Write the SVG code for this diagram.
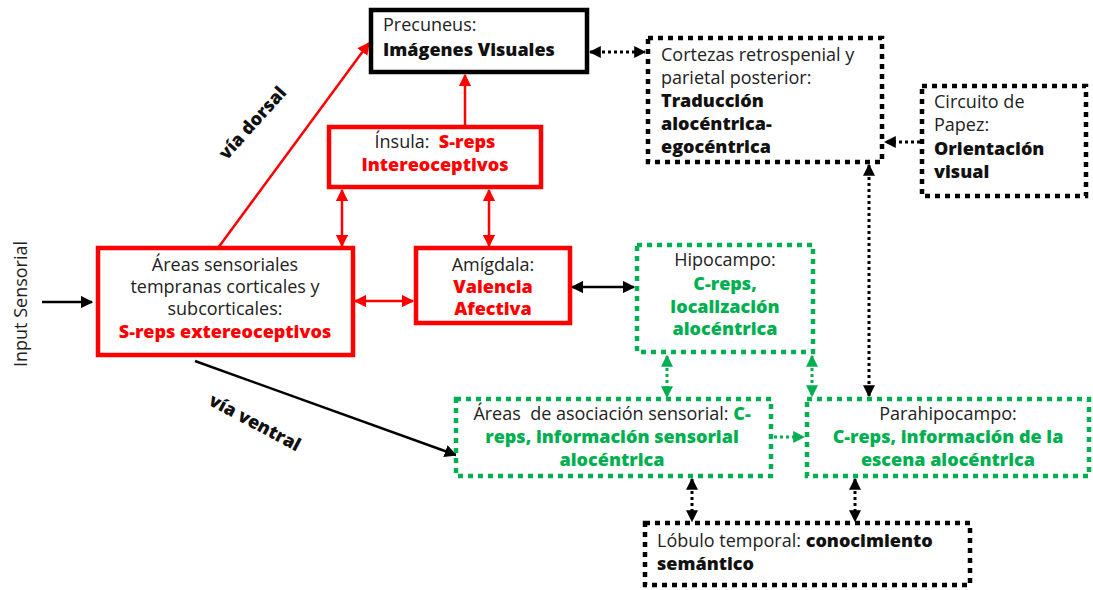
<svg xmlns="http://www.w3.org/2000/svg" width="1093" height="590" viewBox="0 0 1093 590">
  <style>
    text { font-family: "Open Sans", "Noto Sans", sans-serif; font-size: 18px; fill: #222; }
    .b { font-weight: 800; fill: #111; }
    .r { font-weight: 800; fill: #ff0000; }
    .g { font-weight: 800; fill: #00b050; }
    .solidK { fill: #fff; stroke: #000; stroke-width: 4.5; }
    .solidR { fill: #fff; stroke: #ff0000; stroke-width: 4.5; }
    .dotK { fill: #fff; stroke: #000; stroke-width: 4.5; stroke-dasharray: 5 5; }
    .dotG { fill: #fff; stroke: #00b050; stroke-width: 4.5; stroke-dasharray: 5 5; }
    .lk { stroke: #000; stroke-width: 2.5; fill: none; }
    .lr { stroke: #ff0000; stroke-width: 2.5; fill: none; }
    .dk { stroke: #000; stroke-width: 3; fill: none; stroke-dasharray: 3 3; }
    .dg { stroke: #00b050; stroke-width: 3; fill: none; stroke-dasharray: 3 3; }
  </style>
  <defs>
    <marker id="akd" viewBox="0 0 10 10" refX="9" refY="5" markerWidth="4" markerHeight="4" orient="auto-start-reverse">
      <path d="M0,0 L10,5 L0,10 z" fill="#000"/>
    </marker>
    <marker id="ar" viewBox="0 0 10 10" refX="9" refY="5" markerWidth="5" markerHeight="5" orient="auto-start-reverse">
      <path d="M0,0 L10,5 L0,10 z" fill="#ff0000"/>
    </marker>
    <marker id="ag" viewBox="0 0 10 10" refX="9" refY="5" markerWidth="4" markerHeight="4" orient="auto-start-reverse">
      <path d="M0,0 L10,5 L0,10 z" fill="#00b050"/>
    </marker>
    <marker id="ak2" viewBox="0 0 10 10" refX="9" refY="5" markerWidth="5" markerHeight="5" orient="auto-start-reverse">
      <path d="M0,0 L10,5 L0,10 z" fill="#000"/>
    </marker>
  </defs>

  <g id="connectors">
    <!-- input into early sensory areas -->
    <line class="lk" x1="42" y1="302" x2="92" y2="302" marker-end="url(#ak2)"/>
    <!-- dorsal stream -->
    <line class="lr" x1="218" y1="248" x2="369" y2="43" marker-end="url(#ar)"/>
    <!-- ventral stream -->
    <line class="lk" x1="195" y1="361" x2="456" y2="455" marker-end="url(#ak2)"/>
    <!-- insula to precuneus -->
    <line class="lr" x1="465" y1="127" x2="465" y2="75" marker-end="url(#ar)"/>
    <!-- insula <-> sensory areas / amygdala -->
    <line class="lr" x1="342" y1="190" x2="342" y2="246" marker-start="url(#ar)" marker-end="url(#ar)"/>
    <line class="lr" x1="489" y1="190" x2="489" y2="246" marker-start="url(#ar)" marker-end="url(#ar)"/>
    <line class="lr" x1="355" y1="301" x2="413" y2="301" marker-start="url(#ar)" marker-end="url(#ar)"/>
    <!-- amygdala <-> hippocampus -->
    <line class="lk" x1="572" y1="287" x2="634" y2="287" marker-start="url(#ak2)" marker-end="url(#ak2)"/>
    <!-- precuneus <-> retrosplenial -->
    <line class="dk" x1="590" y1="52" x2="645" y2="52" marker-start="url(#akd)" marker-end="url(#akd)"/>
    <!-- Papez -> retrosplenial -->
    <line class="dk" x1="920" y1="142" x2="885" y2="142" marker-end="url(#akd)"/>
    <!-- retrosplenial <-> parahippocampus -->
    <line class="dk" x1="869" y1="165" x2="869" y2="396" marker-start="url(#akd)" marker-end="url(#akd)"/>
    <!-- hippocampus <-> association areas / parahippocampus -->
    <line class="dg" x1="667" y1="356" x2="667" y2="397" marker-start="url(#ag)" marker-end="url(#ag)"/>
    <line class="dg" x1="812" y1="356" x2="812" y2="396" marker-start="url(#ag)" marker-end="url(#ag)"/>
    <!-- association areas -> parahippocampus -->
    <line class="dg" x1="774" y1="437" x2="804" y2="437" marker-end="url(#ag)"/>
    <!-- temporal lobe <-> association areas / parahippocampus -->
    <line class="dk" x1="692" y1="479" x2="692" y2="521" marker-start="url(#akd)" marker-end="url(#akd)"/>
    <line class="dk" x1="855" y1="479" x2="855" y2="521" marker-start="url(#akd)" marker-end="url(#akd)"/>
  </g>

  <g id="labels">
    <text transform="translate(27 304) rotate(-90)" text-anchor="middle">Input Sensorial</text>
    <text class="b" transform="translate(257 127) rotate(-48)" text-anchor="middle">vía dorsal</text>
    <text class="b" transform="translate(252 428) rotate(28)" text-anchor="middle">vía ventral</text>
  </g>

  <g id="precuneus">
    <rect class="solidK" x="371" y="10" width="216" height="62"/>
    <text x="383" y="31">Precuneus:</text>
    <text class="b" x="383" y="56">Imágenes Visuales</text>
  </g>

  <g id="retrosplenial">
    <rect class="dotK" x="648" y="38" width="234" height="124"/>
    <text x="661" y="61">Cortezas retrospenial y</text>
    <text x="661" y="84">parietal posterior:</text>
    <text class="b" x="661" y="107">Traducción</text>
    <text class="b" x="661" y="130">alocéntrica-</text>
    <text class="b" x="661" y="153">egocéntrica</text>
  </g>

  <g id="papez">
    <rect class="dotK" x="922" y="86" width="164" height="110"/>
    <text x="934" y="108">Circuito de</text>
    <text x="934" y="131">Papez:</text>
    <text class="b" x="934" y="155">Orientación</text>
    <text class="b" x="934" y="178">visual</text>
  </g>

  <g id="insula">
    <rect class="solidR" x="329" y="127" width="212" height="60"/>
    <text x="435" y="148" text-anchor="middle">Ínsula:&#160; <tspan class="r">S-reps</tspan></text>
    <text class="r" x="435" y="171" text-anchor="middle">Intereoceptivos</text>
  </g>

  <g id="sensory">
    <rect class="solidR" x="98" y="248" width="255" height="107"/>
    <text x="225" y="271" text-anchor="middle">Áreas sensoriales</text>
    <text x="225" y="293" text-anchor="middle">tempranas corticales y</text>
    <text x="225" y="315" text-anchor="middle">subcorticales:</text>
    <text class="r" x="225" y="338" text-anchor="middle">S-reps extereoceptivos</text>
  </g>

  <g id="amygdala">
    <rect class="solidR" x="416" y="248" width="154" height="75"/>
    <text x="493" y="271" text-anchor="middle">Amígdala:</text>
    <text class="r" x="493" y="293" text-anchor="middle">Valencia</text>
    <text class="r" x="493" y="315" text-anchor="middle">Afectiva</text>
  </g>

  <g id="hippocampus">
    <rect class="dotG" x="637" y="245" width="176" height="107"/>
    <text x="725" y="266" text-anchor="middle">Hipocampo:</text>
    <text class="g" x="725" y="290" text-anchor="middle">C-reps,</text>
    <text class="g" x="725" y="313" text-anchor="middle">localización</text>
    <text class="g" x="725" y="335" text-anchor="middle">alocéntrica</text>
  </g>

  <g id="association">
    <rect class="dotG" x="456" y="399" width="315" height="77"/>
    <text x="612" y="420" text-anchor="middle">Áreas&#160; de asociación sensorial: <tspan class="g">C-</tspan></text>
    <text class="g" x="612" y="443" text-anchor="middle">reps, información sensorial</text>
    <text class="g" x="612" y="466" text-anchor="middle">alocéntrica</text>
  </g>

  <g id="parahippocampus">
    <rect class="dotG" x="807" y="399" width="282" height="77"/>
    <text x="948" y="420" text-anchor="middle">Parahipocampo:</text>
    <text class="g" x="948" y="443" text-anchor="middle">C-reps, información de la</text>
    <text class="g" x="948" y="466" text-anchor="middle">escena alocéntrica</text>
  </g>

  <g id="temporal">
    <rect class="dotK" x="645" y="523" width="325" height="62"/>
    <text x="657" y="547">Lóbulo temporal: <tspan class="b">conocimiento</tspan></text>
    <text class="b" x="657" y="570">semántico</text>
  </g>
</svg>
